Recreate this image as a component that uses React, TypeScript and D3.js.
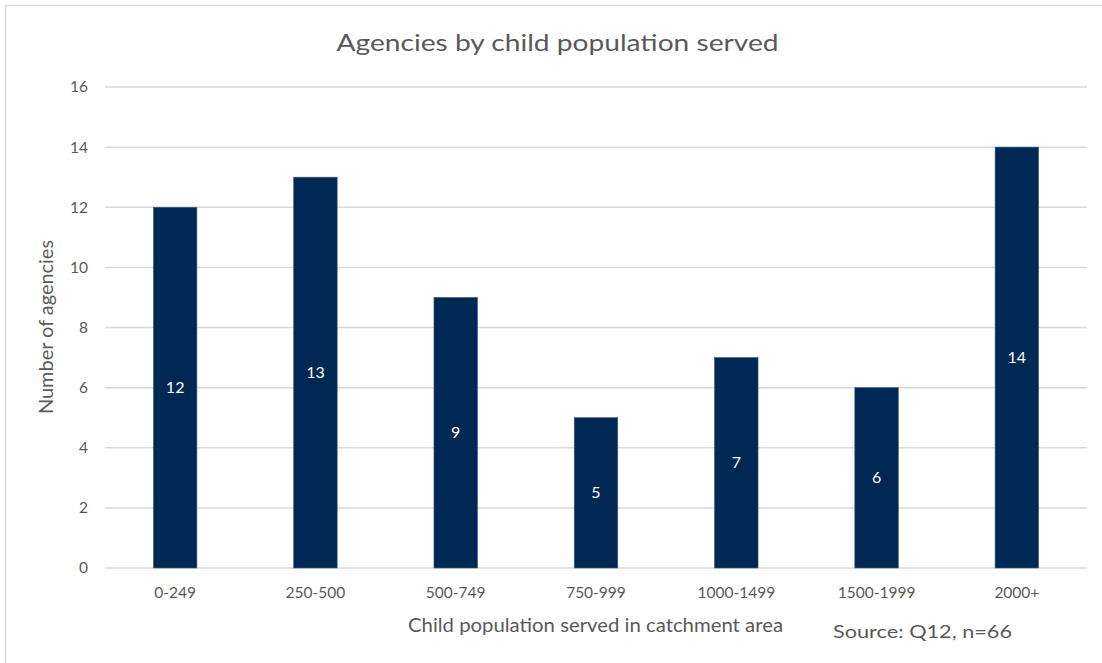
import React from "react";
import * as d3 from "d3";

const categories = ["0-249", "250-500", "500-749", "750-999", "1000-1499", "1500-1999", "2000+"];
const values = [12, 13, 9, 5, 7, 6, 14];
const yTicks = [0, 2, 4, 6, 8, 10, 12, 14, 16];

const W = 1102;
const H = 663;
const FONT = "Lato, 'Open Sans', sans-serif";

export default function App() {
  const x = d3.scaleBand<string>().domain(categories).range([105, 1087]).paddingInner(0.69).paddingOuter(0.345);
  const y = d3.scaleLinear().domain([0, 16]).range([568, 87]);
  const bw = 43.5;
  return (
    <svg width={W} height={H} style={{ position: "absolute", left: 0, top: 0, background: "#fff" }}>
      <rect x={5.5} y={5.5} width={W + 10} height={H + 10} fill="#fff" stroke="#D9D9D9" strokeWidth={1.5} />
      <text x={557.5} y={43} dy="0.35em" textAnchor="middle" fontFamily={FONT} fontSize={24} fill="#595959"
        textLength={442} lengthAdjust="spacingAndGlyphs">
        Agencies by child population served
      </text>
      {yTicks.map((t) => (
        <g key={t}>
          <line x1={105} x2={1087} y1={y(t)} y2={y(t)} stroke="#D9D9D9" strokeWidth={1.5} />
          <text x={88} y={y(t)} dy="0.35em" textAnchor="end" fontFamily={FONT} fontSize={15.5} fill="#595959">
            {t}
          </text>
        </g>
      ))}
      {categories.map((c, i) => {
        const cx = (x(c) as number) + x.bandwidth() / 2;
        const v = values[i];
        return (
          <g key={c}>
            <rect x={cx - bw / 2} y={y(v)} width={bw} height={y(0) - y(v)} fill="#002855" stroke="#3A5A80" strokeWidth={0.6} />
            <text x={cx} y={y(v / 2)} dy="0.35em" textAnchor="middle" fontFamily={FONT} fontSize={16} fill="#ffffff">
              {v}
            </text>
            <text x={cx} y={593} dy="0.35em" textAnchor="middle" fontFamily={FONT} fontSize={15.5} fill="#595959">
              {c}
            </text>
          </g>
        );
      })}
      <text x={595.5} y={626} dy="0.35em" textAnchor="middle" fontFamily={FONT} fontSize={18.5} fill="#595959"
        textLength={375} lengthAdjust="spacingAndGlyphs">
        Child population served in catchment area
      </text>
      <text x={833} y={632} dy="0.35em" textAnchor="start" fontFamily={FONT} fontSize={18} fill="#595959"
        textLength={179} lengthAdjust="spacingAndGlyphs">
        Source: Q12, n=66
      </text>
      <text transform={`translate(47,${327}) rotate(-90)`} dy="0.35em" textAnchor="middle" fontFamily={FONT} fontSize={18.5} fill="#595959"
        textLength={174} lengthAdjust="spacingAndGlyphs">
        Number of agencies
      </text>
    </svg>
  );
}
